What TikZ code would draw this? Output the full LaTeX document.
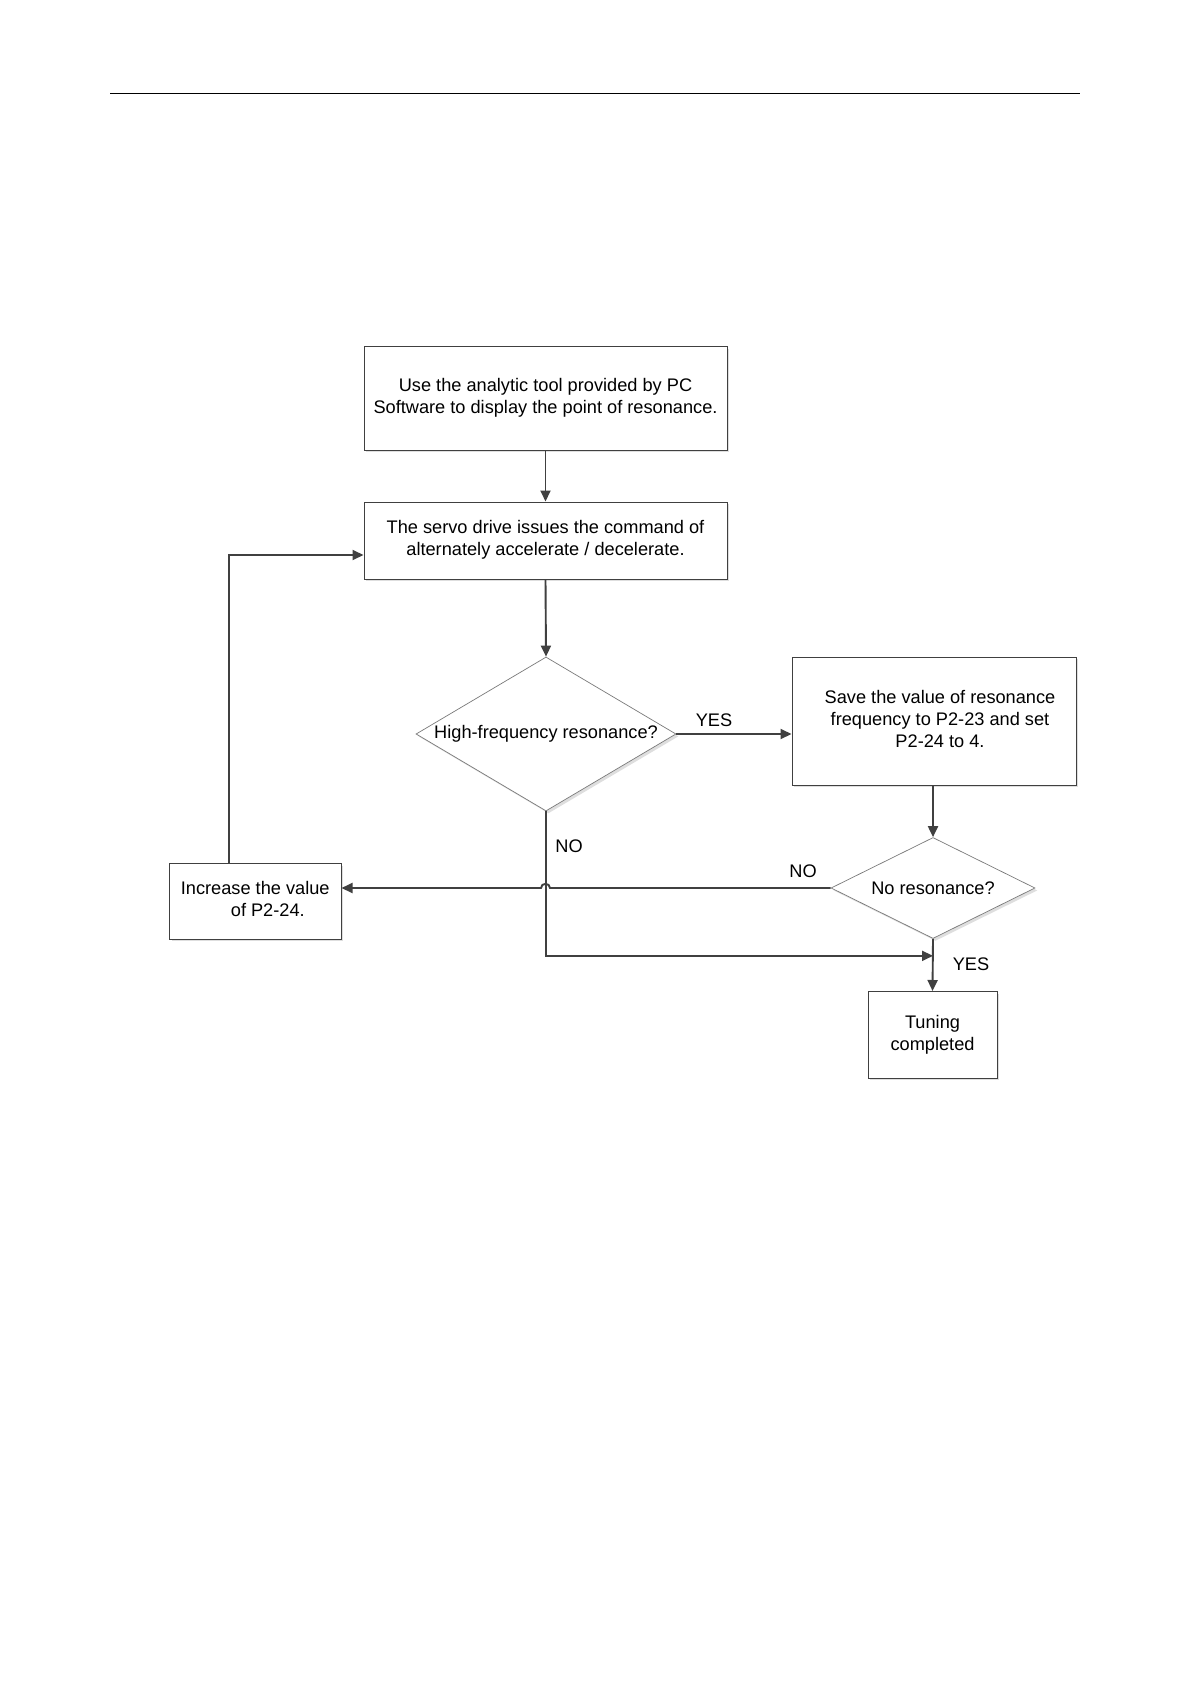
\documentclass[tikz,border=0pt]{standalone}
\usepackage{fontspec}
\setmainfont{Liberation Sans}
\usetikzlibrary{arrows.meta,shapes.geometric,shadows}
\definecolor{linec}{HTML}{404040}
\definecolor{diac}{HTML}{7A7A7A}
\begin{document}
\begin{tikzpicture}[x=0.5pt,y=-0.5pt,
  every node/.style={font=\fontsize{9.1}{11}\selectfont, text=black},
  procbox/.style={draw=linec, line width=0.5pt, fill=white, inner sep=0pt,
    drop shadow={shadow xshift=1.2pt, shadow yshift=-1.2pt, opacity=0.13, fill=black}},
  decide/.style={diamond, draw=diac, line width=0.35pt, fill=white, inner sep=0pt,
    drop shadow={shadow xshift=1.2pt, shadow yshift=-1.2pt, opacity=0.13, fill=black}},
  conn/.style={draw=linec, line width=0.95pt, -{Triangle[length=5.5pt,width=5pt]}},
  lbl/.style={inner sep=0pt}]
\useasboundingbox (0,0) rectangle (1190,1684);
\fill[white] (0,0) rectangle (1190,1684);
% header rule
\draw[line width=0.7pt, black] (110,93.3) -- (1080,93.3);

% nodes
\node[procbox, minimum width=181.5pt, minimum height=51.5pt] (box1) at (545.5,398.5)
  {\begin{tabular}{@{}c@{}}Use the analytic tool provided by PC\\Software to display the point of resonance.\end{tabular}};
\node[procbox, minimum width=181.5pt, minimum height=38.5pt] (box2) at (545.5,540.5)
  {\begin{tabular}{@{}c@{}}The servo drive issues the command of\\alternately accelerate / decelerate.\end{tabular}};
\node[decide, shape aspect=1.69, minimum width=130pt, minimum height=77pt] (d1) at (546,734)
  {High-frequency resonance?};
\node[procbox, minimum width=142pt, minimum height=64pt] (box3) at (934,721)
  {\hspace*{6pt}\begin{tabular}{@{}c@{}}Save the value of resonance\\frequency to P2-23 and set\\P2-24 to 4.\end{tabular}};
\node[decide, shape aspect=2.02, minimum width=102pt, minimum height=50.5pt] (d2) at (933,888)
  {No resonance?};
\node[procbox, minimum width=85.75pt, minimum height=37.75pt] (inc) at (255.25,901.25)
  {\begin{tabular}{@{}l@{}}Increase the value\\\hspace*{25pt}of P2-24.\end{tabular}};
\node[procbox, minimum width=64.5pt, minimum height=43.25pt] (tun) at (932.5,1034.75)
  {\begin{tabular}{@{}c@{}}Tuning\\completed\end{tabular}};

% connectors
\draw[conn] (box1.south) -- (box2.north);
\draw[conn] (box2.south) -- (d1.north);
\draw[conn] (d1.east) -- (box3.west |- d1.east);
\node[lbl] (yes1) at (714,720) {YES};
\draw[conn] (box3.south -| d2.north) -- (d2.north);
% NO from d2 back to increase, with a jump over the vertical line
\draw[conn] (d2.west) -- (550,888) .. controls (550,882.5) and (541,882.5) .. (541,888) -- (inc.east |- d2.west);
\node[lbl] (no2) at (803,871) {NO};
% loop back to box2
\draw[conn] ([xshift=-13.1pt]inc.north) |- ([yshift=-7.25pt]box2.west);
% NO from d1 down to merge point
\path (d2.south) ++(0,17) coordinate (merge);
\draw[conn] (d1.south) |- (merge);
\node[lbl] (no1) at (569,846.5) {NO};
\draw[conn] (d2.south) -- (tun.north);
\node[lbl] (yes2) at (971,964) {YES};
\end{tikzpicture}
\end{document}
